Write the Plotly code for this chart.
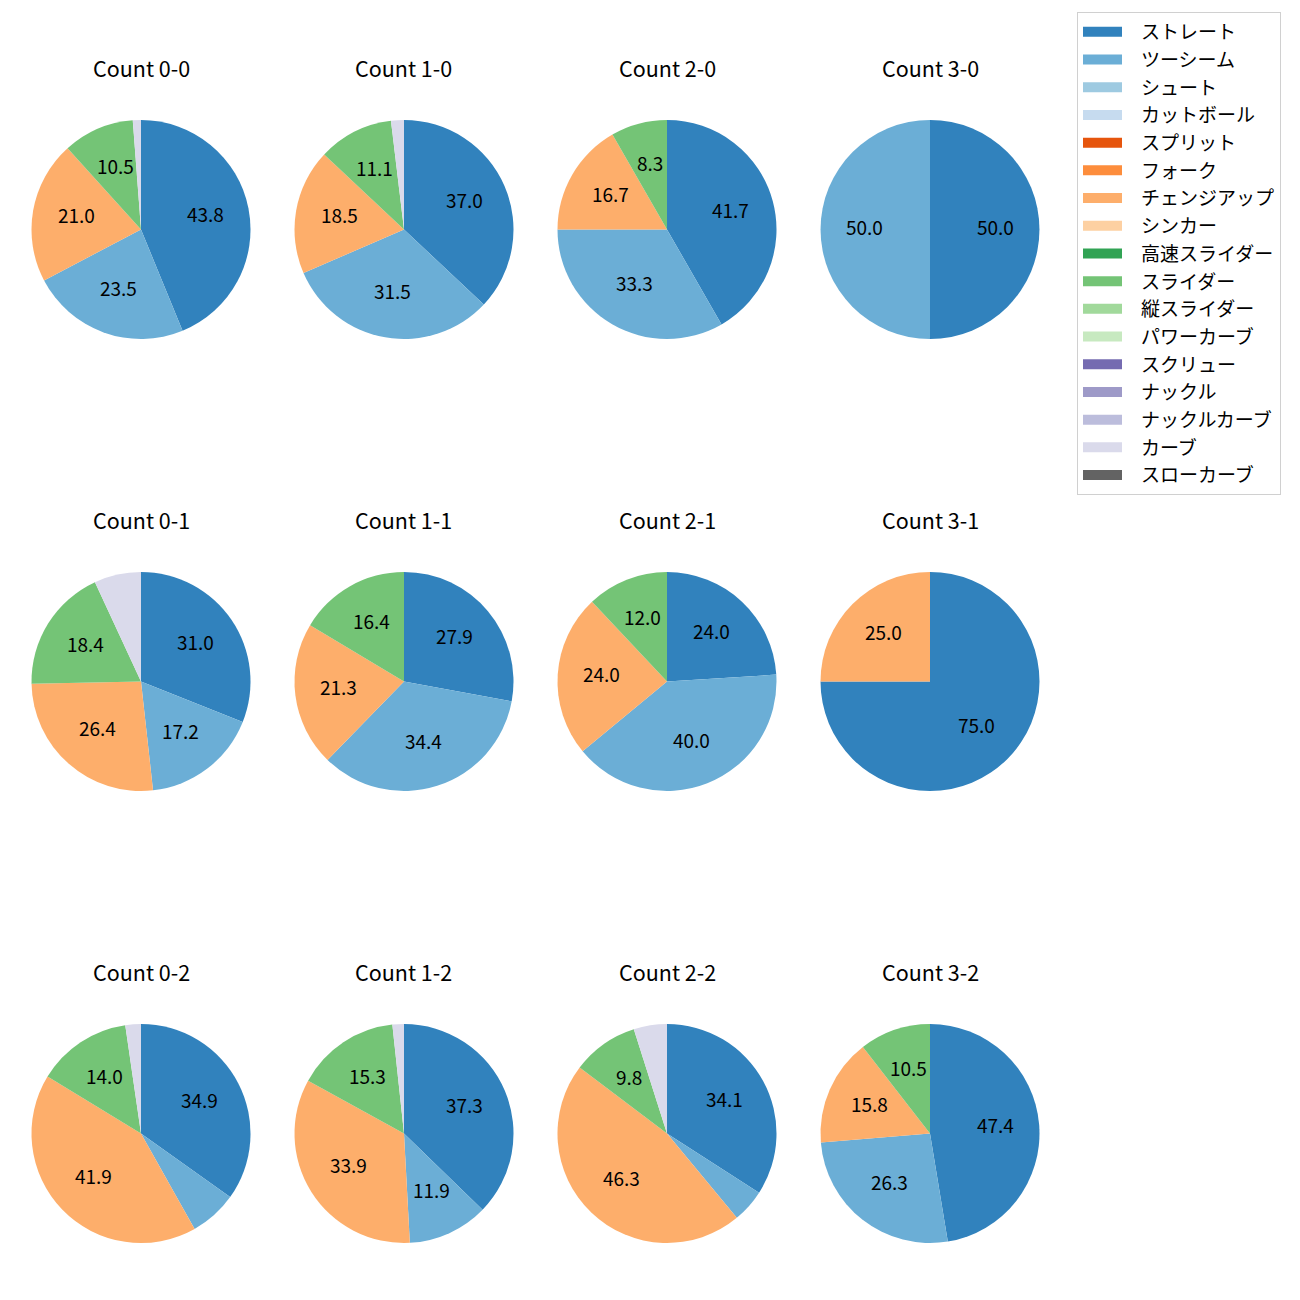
import math
import plotly.graph_objects as go

W, H = 1300, 1300

pitch_types = ["ストレート", "ツーシーム", "シュート", "カットボール", "スプリット", "フォーク",
               "チェンジアップ", "シンカー", "高速スライダー", "スライダー", "縦スライダー",
               "パワーカーブ", "スクリュー", "ナックル", "ナックルカーブ", "カーブ", "スローカーブ"]
pitch_colors = ["#3182bd", "#6baed6", "#9ecae1", "#c6dbef", "#e6550d", "#fd8d3c",
                "#fdae6b", "#fdd0a2", "#31a354", "#74c476", "#a1d99b",
                "#c7e9c0", "#756bb1", "#9e9ac8", "#bcbddc", "#dadaeb", "#636363"]

count_titles = ["Count 0-0", "Count 1-0", "Count 2-0", "Count 3-0",
                "Count 0-1", "Count 1-1", "Count 2-1", "Count 3-1",
                "Count 0-2", "Count 1-2", "Count 2-2", "Count 3-2"]

labels_0_0 = ["ストレート", "ツーシーム", "チェンジアップ", "スライダー", "カーブ"]
values_0_0 = [43.8, 23.5, 21.0, 10.5, 1.2]
labels_1_0 = ["ストレート", "ツーシーム", "チェンジアップ", "スライダー", "カーブ"]
values_1_0 = [37.0, 31.5, 18.5, 11.1, 1.9]
labels_2_0 = ["ストレート", "ツーシーム", "チェンジアップ", "スライダー"]
values_2_0 = [41.7, 33.3, 16.7, 8.3]
labels_3_0 = ["ストレート", "ツーシーム"]
values_3_0 = [50.0, 50.0]
labels_0_1 = ["ストレート", "ツーシーム", "チェンジアップ", "スライダー", "カーブ"]
values_0_1 = [31.0, 17.2, 26.4, 18.4, 6.9]
labels_1_1 = ["ストレート", "ツーシーム", "チェンジアップ", "スライダー"]
values_1_1 = [27.9, 34.4, 21.3, 16.4]
labels_2_1 = ["ストレート", "ツーシーム", "チェンジアップ", "スライダー"]
values_2_1 = [24.0, 40.0, 24.0, 12.0]
labels_3_1 = ["ストレート", "チェンジアップ"]
values_3_1 = [75.0, 25.0]
labels_0_2 = ["ストレート", "ツーシーム", "チェンジアップ", "スライダー", "カーブ"]
values_0_2 = [34.9, 7.0, 41.9, 14.0, 2.3]
labels_1_2 = ["ストレート", "ツーシーム", "チェンジアップ", "スライダー", "カーブ"]
values_1_2 = [37.3, 11.9, 33.9, 15.3, 1.7]
labels_2_2 = ["ストレート", "ツーシーム", "チェンジアップ", "スライダー", "カーブ"]
values_2_2 = [34.1, 4.9, 46.3, 9.8, 4.9]
labels_3_2 = ["ストレート", "ツーシーム", "チェンジアップ", "スライダー"]
values_3_2 = [47.4, 26.3, 15.8, 10.5]

all_labels = [labels_0_0, labels_1_0, labels_2_0, labels_3_0,
              labels_0_1, labels_1_1, labels_2_1, labels_3_1,
              labels_0_2, labels_1_2, labels_2_2, labels_3_2]
all_values = [values_0_0, values_1_0, values_2_0, values_3_0,
              values_0_1, values_1_1, values_2_1, values_3_1,
              values_0_2, values_1_2, values_2_2, values_3_2]

FONT = "Noto Sans CJK JP"
color_of = dict(zip(pitch_types, pitch_colors))

col_cx = [141, 404, 667, 930]
row_cy = [229.5, 681.5, 1133.5]
R = 109.5
LABEL_MIN_PCT = 8.0
LABEL_RADIUS = 0.6
LABEL_DY = -3.5

fig = go.Figure()
annotations = []
for i, (labs, vals) in enumerate(zip(all_labels, all_values)):
    r, c = divmod(i, 4)
    cx, cy = col_cx[c], row_cy[r]
    total = sum(vals)
    fig.add_trace(go.Pie(
        labels=labs, values=vals, textinfo="none",
        marker=dict(colors=[color_of[l] for l in labs], line=dict(width=0)),
        sort=False, direction="clockwise", rotation=0,
        showlegend=False, hoverinfo="label+percent",
        domain=dict(x=[(cx - R) / W, (cx + R) / W],
                    y=[1 - (cy + R) / H, 1 - (cy - R) / H]),
    ))
    # percentage labels placed along each slice's bisector (like autopct)
    cum = 0.0
    for v in vals:
        pct = v / total * 100
        mid = (cum + v / 2) / total * 2 * math.pi
        cum += v
        if pct < LABEL_MIN_PCT:
            continue
        px = cx + LABEL_RADIUS * R * math.sin(mid)
        py = cy - LABEL_RADIUS * R * math.cos(mid) + LABEL_DY
        annotations.append(dict(
            text=f"{pct:.1f}", x=px / W, y=1 - py / H,
            xref="paper", yref="paper", showarrow=False,
            xanchor="center", yanchor="middle",
            font=dict(family=FONT, size=19, color="black"),
        ))
    annotations.append(dict(
        text=count_titles[i], x=cx / W, y=1 - (cy - 162) / H,
        xref="paper", yref="paper", showarrow=False,
        xanchor="center", yanchor="middle",
        font=dict(family=FONT, size=21.5, color="black"),
    ))

for name, col in zip(pitch_types, pitch_colors):
    fig.add_trace(go.Scatter(
        x=[None], y=[None], mode="lines", name=name,
        line=dict(color=col, width=13, dash="39px,200px"),
        legendgroup=name, showlegend=True,
    ))

fig.update_layout(
    width=W, height=H, margin=dict(l=0, r=0, t=0, b=0),
    paper_bgcolor="white", plot_bgcolor="white",
    xaxis=dict(visible=False), yaxis=dict(visible=False),
    annotations=annotations,
    legend=dict(
        x=1077 / W, y=1 - 12 / H, xanchor="left", yanchor="top",
        bordercolor="#d0d0d0", borderwidth=1, bgcolor="white",
        font=dict(family=FONT, size=19, color="black"),
        traceorder="grouped", tracegroupgap=0, itemwidth=53,
    ),
)

fig.write_html("out.html")
